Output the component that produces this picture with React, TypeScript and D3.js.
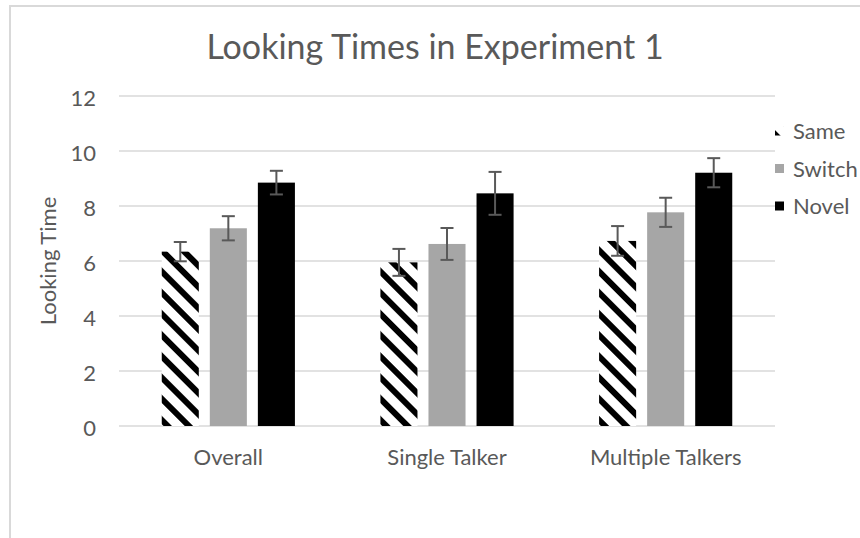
import React from "react";
import * as d3 from "d3";

const categories = ["Overall", "Single Talker", "Multiple Talkers"];
const seriesNames = ["Same", "Switch", "Novel"];
const sameValues = [6.34, 5.95, 6.73];
const switchValues = [7.19, 6.62, 7.77];
const novelValues = [8.85, 8.46, 9.21];
const sameErrors = [0.35, 0.49, 0.54];
const switchErrors = [0.44, 0.58, 0.53];
const novelErrors = [0.43, 0.78, 0.53];
const yTicks = [0, 2, 4, 6, 8, 10, 12];
const chartTitle = "Looking Times in Experiment 1";
const yAxisTitle = "Looking Time";

const W = 860;
const H = 538;
const TEXT = "#595959";
const GRID = "#d9d9d9";
const FONT = "Lato, 'Open Sans', sans-serif";

export default function App() {
  const values = [sameValues, switchValues, novelValues];
  const errors = [sameErrors, switchErrors, novelErrors];
  const fills = ["url(#hatch)", "#a6a6a6", "#000000"];

  const x0 = d3
    .scaleBand<string>()
    .domain(categories)
    .range([119, 775])
    .paddingInner(0.391)
    .paddingOuter(0.1955);
  const x1 = d3
    .scaleBand<string>()
    .domain(seriesNames)
    .range([0, x0.bandwidth()])
    .paddingInner(0.229)
    .paddingOuter(0);
  const y = d3.scaleLinear().domain([0, 12]).range([426, 96]);

  const legendY = d3.scalePoint<string>().domain(seriesNames).range([131, 206]);

  return (
    <svg
      width={W}
      height={H}
      style={{ position: "absolute", left: 0, top: 0, background: "#fff" }}
      fontFamily={FONT}
    >
      <defs>
        <pattern
          id="hatch"
          patternUnits="userSpaceOnUse"
          width={15}
          height={15}
          patternTransform="rotate(-45)"
        >
          <rect x={0} y={0} width={15} height={15} fill="#fff" />
          <rect x={0} y={0} width={6} height={15} fill="#000" />
        </pattern>
      </defs>
      <rect x={0} y={0} width={W} height={H} fill="#fff" />
      {/* chart border (cropped) */}
      <path d={`M10,${H + 5} L10,6 L${W + 5},6`} fill="none" stroke={GRID} strokeWidth={2} />

      {/* title */}
      <text x={435} y={59} textAnchor="middle" fontSize={34} fill={TEXT}>
        {chartTitle}
      </text>

      {/* gridlines and y ticks */}
      {yTicks.map((t) => (
        <g key={t}>
          <line x1={119} x2={775} y1={y(t)} y2={y(t)} stroke={GRID} strokeWidth={1.5} />
          <text x={96} y={y(t) + 10} textAnchor="end" fontSize={22} fill={TEXT}>
            {t}
          </text>
        </g>
      ))}

      {/* y axis title */}
      <text
        transform={`translate(56,261) rotate(-90)`}
        textAnchor="middle"
        fontSize={22}
        fill={TEXT}
      >
        {yAxisTitle}
      </text>

      {/* bars */}
      {categories.map((c, ci) => (
        <g key={c} transform={`translate(${x0(c)},0)`}>
          {seriesNames.map((s, si) => {
            const v = values[si][ci];
            const bx = x1(s)!;
            const bw = x1.bandwidth();
            return (
              <rect
                key={s}
                x={bx}
                y={y(v)}
                width={bw}
                height={y(0) - y(v)}
                fill={fills[si]}
              />
            );
          })}
          {seriesNames.map((s, si) => {
            const v = values[si][ci];
            const e = errors[si][ci];
            const cx = x1(s)! + x1.bandwidth() / 2;
            return (
              <g key={s} stroke="#595959" strokeWidth={2}>
                <line x1={cx} x2={cx} y1={y(v + e)} y2={y(v - e)} />
                <line x1={cx - 6.5} x2={cx + 6.5} y1={y(v + e)} y2={y(v + e)} />
                <line x1={cx - 6.5} x2={cx + 6.5} y1={y(v - e)} y2={y(v - e)} />
              </g>
            );
          })}
          <text
            x={x0.bandwidth() / 2}
            y={465}
            textAnchor="middle"
            fontSize={22}
            fill={TEXT}
          >
            {c}
          </text>
        </g>
      ))}

      {/* legend */}
      {seriesNames.map((s, si) => (
        <g key={s}>
          <rect x={775} y={legendY(s)! - 4.5} width={9} height={9} fill={fills[si]} />
          <text x={793} y={legendY(s)! + 8} fontSize={22} fill={TEXT}>
            {s}
          </text>
        </g>
      ))}
    </svg>
  );
}
